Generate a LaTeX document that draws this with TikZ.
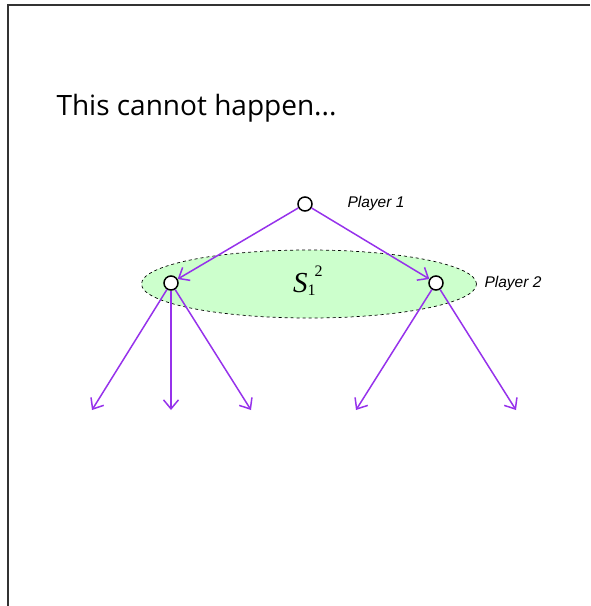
\documentclass[tikz,border=0pt]{standalone}
\usepackage{fontspec}
\setmainfont{Liberation Serif}
\setsansfont{Liberation Sans}
\newfontfamily\titlefont{Open Sans}
\usetikzlibrary{arrows.meta,shapes.geometric}
\definecolor{arrowviolet}{RGB}{150,50,235}
\definecolor{setgreen}{RGB}{204,255,204}
\newcommand{\idx}[1]{{\fontsize{16}{17}\selectfont #1}}
\begin{document}
\begin{tikzpicture}[x=1pt,y=-1pt,
  decnode/.style={circle,draw=black,fill=white,line width=1.5pt,minimum size=14pt,inner sep=0pt},
  move/.style={draw=arrowviolet,line width=1.5pt,-{Straight Barb[length=9pt,width=15pt,line width=1.5pt]}},
  plabel/.style={font=\sffamily\itshape\fontsize{15.5}{18}\selectfont,anchor=west}]
\useasboundingbox (0,0) rectangle (590,606);
\draw[line width=1.3pt,black!80] (8,606) -- (8,5) -- (590,5);
\node[anchor=west,font=\titlefont\fontsize{28}{32}\selectfont] (title) at (53,108) {This cannot happen...};
\node[ellipse,draw,dashed,line width=0.7pt,fill=setgreen,minimum width=335pt,minimum height=68pt,inner sep=0pt] (infoset) at (309,284) {};
\node[font=\fontsize{29}{32}\selectfont,inner sep=0pt,anchor=base west] (s) at (293,292) {\textit{S}\raisebox{-3pt}{\rlap{\idx{1}}}\hspace{7pt}\raisebox{16pt}{\idx{2}}};
\node[decnode] (root) at (305,204) {};
\node[decnode] (left) at (171,283) {};
\node[decnode] (right) at (436,283) {};
\node[plabel] (p1) at (344,203) {Player 1};
\node[plabel] (p2) at (481,283) {Player 2};
\coordinate (l1) at (92,410);
\coordinate (l2) at (171,410);
\coordinate (l3) at (251,410);
\coordinate (r1) at (356,410);
\coordinate (r2) at (516,410);
\draw[move] (root) -- (left);
\draw[move] (root) -- (right);
\draw[move] (left) -- (l1);
\draw[move] (left) -- (l2);
\draw[move] (left) -- (l3);
\draw[move] (right) -- (r1);
\draw[move] (right) -- (r2);
\end{tikzpicture}
\end{document}
